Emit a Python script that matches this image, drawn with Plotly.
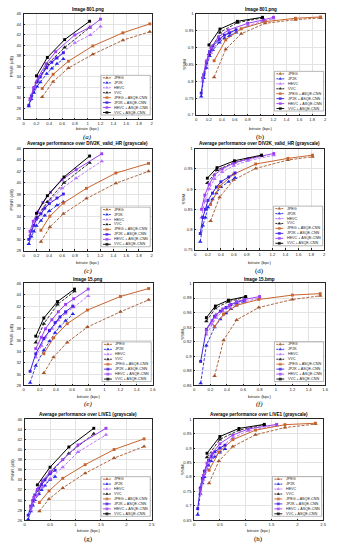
import plotly.graph_objects as go

W, H = 337, 550

CODECS = ["JPEG", "JP2K", "HEVC", "VVC"]
LEGEND_LABELS = ["JPEG", "JP2K", "HEVC", "VVC",
                 "JPEG + ASQE-CNN", "JP2K + ASQE-CNN", "HEVC + ASQE-CNN", "VVC + ASQE-CNN"]

TITLES = ["Image 801.png", "Image 801.png",
          "Average performance over DIV2K_valid_HR (grayscale)",
          "Average performance over DIV2K_valid_HR (grayscale)",
          "Image 15.png", "Image 15.bmp",
          "Average performance over LIVE1 (grayscale)",
          "Average performance over LIVE1 (grayscale)"]
CAPTIONS = ["(a)", "(b)", "(c)", "(d)", "(e)", "(f)", "(g)", "(h)"]
CAPTION_ITALIC = [True, False, True, False, True, True, False, False]
Y_TITLES = ["PSNR (dB)", "SSIM"] * 4
X_TITLE = "bitrate (bpc)"

# ---------------- data ----------------
# (a) Image 801 PSNR
A_BPP = {"JPEG": [0.29, 0.46, 0.70, 1.08, 1.55, 1.97],
         "JP2K": [0.08, 0.12, 0.16, 0.21, 0.26, 0.36, 0.44, 0.52, 0.62],
         "HEVC": [0.10, 0.16, 0.23, 0.35, 0.50, 0.80, 1.04, 1.20],
         "VVC": [0.20, 0.37, 0.64, 1.03]}
A_BASE = {"JPEG": [30.2, 33.1, 35.7, 38.3, 41.0, 42.6],
          "JP2K": [28.4, 29.8, 31.0, 32.2, 33.0, 34.6, 35.6, 36.5, 37.4],
          "HEVC": [29.6, 31.5, 33.2, 35.6, 37.6, 40.5, 42.0, 43.6],
          "VVC": [33.0, 36.4, 39.6, 43.4]}
A_ASQE = {"JPEG": [31.8, 34.5, 37.0, 39.9, 42.4, 44.1],
          "JP2K": [28.6, 30.4, 31.8, 33.2, 34.0, 35.8, 36.8, 37.6, 38.6],
          "HEVC": [29.9, 32.0, 34.0, 36.5, 38.8, 42.0, 43.5, 45.0],
          "VVC": [34.2, 37.7, 41.1, 44.6]}
# (b) Image 801 SSIM
B_BPP = {"JPEG": [0.28, 0.46, 0.70, 1.07, 1.54, 1.93],
         "JP2K": [0.08, 0.12, 0.16, 0.21, 0.26, 0.36, 0.44, 0.52, 0.62],
         "HEVC": [0.10, 0.16, 0.23, 0.35, 0.50, 0.80, 1.04, 1.20],
         "VVC": [0.20, 0.37, 0.64, 1.03]}
B_BASE = {"JPEG": [0.812, 0.895, 0.941, 0.972, 0.983, 0.988],
          "JP2K": [0.755, 0.810, 0.840, 0.875, 0.893, 0.915, 0.928, 0.935, 0.945],
          "HEVC": [0.800, 0.850, 0.885, 0.920, 0.942, 0.965, 0.978, 0.986],
          "VVC": [0.880, 0.945, 0.974, 0.988]}
B_ASQE = {"JPEG": [0.861, 0.923, 0.956, 0.977, 0.987, 0.991],
          "JP2K": [0.765, 0.820, 0.855, 0.888, 0.905, 0.925, 0.937, 0.944, 0.953],
          "HEVC": [0.810, 0.860, 0.900, 0.932, 0.952, 0.972, 0.982, 0.990],
          "VVC": [0.908, 0.955, 0.978, 0.990]}
# (c) DIV2K PSNR
C_BPP = {"JPEG": [0.27, 0.41, 0.62, 0.98, 1.44, 1.95],
         "JP2K": [0.08, 0.12, 0.16, 0.20, 0.27, 0.33, 0.40, 0.52, 0.62],
         "HEVC": [0.10, 0.15, 0.22, 0.30, 0.42, 0.60, 0.82, 1.22],
         "VVC": [0.20, 0.37, 0.63, 1.03]}
C_BASE = {"JPEG": [29.6, 32.2, 34.5, 37.2, 39.9, 42.0],
          "JP2K": [29.2, 30.5, 31.4, 32.4, 33.3, 34.2, 35.0, 36.0, 36.6],
          "HEVC": [30.8, 32.3, 33.8, 35.3, 37.0, 39.0, 40.8, 43.8],
          "VVC": [33.8, 36.6, 40.0, 43.5]}
C_ASQE = {"JPEG": [31.6, 34.1, 36.4, 39.0, 41.7, 43.4],
          "JP2K": [30.0, 31.5, 32.5, 33.6, 34.5, 35.5, 36.3, 37.3, 38.0],
          "HEVC": [31.4, 33.2, 34.8, 36.5, 38.3, 40.5, 42.3, 45.1],
          "VVC": [34.6, 37.7, 41.0, 44.7]}
# (d) DIV2K SSIM
D_BPP = {"JPEG": [0.24, 0.38, 0.60, 0.94, 1.44, 1.82],
         "JP2K": [0.08, 0.12, 0.16, 0.20, 0.27, 0.33, 0.40, 0.52, 0.62],
         "HEVC": [0.10, 0.15, 0.22, 0.30, 0.42, 0.60, 0.82, 1.22],
         "VVC": [0.19, 0.34, 0.61, 1.03]}
D_BASE = {"JPEG": [0.821, 0.880, 0.923, 0.951, 0.972, 0.980],
          "JP2K": [0.770, 0.810, 0.830, 0.855, 0.875, 0.890, 0.905, 0.918, 0.928],
          "HEVC": [0.830, 0.870, 0.900, 0.925, 0.942, 0.958, 0.970, 0.984],
          "VVC": [0.915, 0.947, 0.966, 0.982]}
D_ASQE = {"JPEG": [0.862, 0.907, 0.937, 0.962, 0.976, 0.984],
          "JP2K": [0.790, 0.830, 0.850, 0.872, 0.890, 0.905, 0.918, 0.930, 0.940],
          "HEVC": [0.850, 0.885, 0.912, 0.935, 0.950, 0.964, 0.975, 0.988],
          "VVC": [0.927, 0.953, 0.970, 0.984]}
# (e) Image 15 PSNR
E_BPP = {"JPEG": [0.25, 0.37, 0.54, 0.79, 1.20, 1.55],
         "JP2K": [0.08, 0.15, 0.25, 0.32, 0.39, 0.45, 0.52, 0.61],
         "HEVC": [0.15, 0.22, 0.27, 0.35, 0.43, 0.52, 0.62, 0.80],
         "VVC": [0.15, 0.25, 0.42, 0.63]}
E_BASE = {"JPEG": [30.2, 33.0, 35.6, 38.3, 41.0, 43.1],
          "JP2K": [28.5, 31.5, 34.2, 35.8, 37.3, 38.4, 39.4, 40.6],
          "HEVC": [33.0, 35.0, 36.5, 38.0, 39.5, 40.7, 41.8, 43.8],
          "VVC": [35.6, 38.9, 42.3, 44.6]}
E_ASQE = {"JPEG": [33.6, 36.4, 38.9, 41.3, 43.7, 45.1],
          "JP2K": [30.5, 33.6, 36.3, 37.7, 39.1, 40.1, 41.0, 42.0],
          "HEVC": [34.5, 36.5, 38.0, 39.6, 41.0, 42.3, 43.3, 45.0],
          "VVC": [36.7, 39.9, 42.8, 45.0]}
# (f) Image 15 SSIM
F_BPP = {"JPEG": [0.25, 0.36, 0.52, 0.79, 1.20, 1.54],
         "JP2K": [0.08, 0.15, 0.25, 0.32, 0.39, 0.45, 0.52, 0.61],
         "HEVC": [0.15, 0.22, 0.27, 0.35, 0.43, 0.52, 0.62, 0.80],
         "VVC": [0.15, 0.26, 0.42, 0.63]}
F_BASE = {"JPEG": [0.873, 0.922, 0.950, 0.967, 0.978, 0.983],
          "JP2K": [0.863, 0.915, 0.940, 0.951, 0.959, 0.965, 0.970, 0.975],
          "HEVC": [0.930, 0.944, 0.953, 0.962, 0.967, 0.972, 0.975, 0.980],
          "VVC": [0.948, 0.966, 0.975, 0.981]}
F_ASQE = {"JPEG": [0.941, 0.958, 0.970, 0.978, 0.984, 0.986],
          "JP2K": [0.893, 0.937, 0.955, 0.962, 0.967, 0.971, 0.974, 0.977],
          "HEVC": [0.936, 0.949, 0.957, 0.965, 0.970, 0.975, 0.978, 0.982],
          "VVC": [0.953, 0.969, 0.977, 0.982]}
# (g) LIVE1 PSNR
G_BPP = {"JPEG": [0.29, 0.48, 0.75, 1.19, 1.76, 2.35],
         "JP2K": [0.07, 0.12, 0.16, 0.20, 0.28, 0.33, 0.40, 0.50, 0.60],
         "HEVC": [0.12, 0.18, 0.25, 0.35, 0.50, 0.75, 1.05, 1.60],
         "VVC": [0.25, 0.50, 0.87, 1.36]}
G_BASE = {"JPEG": [27.8, 30.2, 32.4, 35.3, 38.3, 40.6],
          "JP2K": [26.2, 27.8, 28.9, 30.0, 31.2, 32.0, 32.9, 34.0, 34.6],
          "HEVC": [28.0, 29.6, 31.0, 32.6, 34.2, 36.5, 39.5, 42.9],
          "VVC": [31.9, 35.4, 39.2, 43.1]}
G_ASQE = {"JPEG": [29.5, 31.8, 34.3, 37.0, 40.0, 42.1],
          "JP2K": [27.0, 28.8, 29.9, 31.0, 32.3, 33.1, 34.0, 35.2, 35.9],
          "HEVC": [28.6, 30.5, 32.1, 33.8, 35.6, 38.0, 40.9, 44.2],
          "VVC": [33.0, 36.5, 40.5, 44.2]}
# (h) LIVE1 SSIM
H_BPP = {"JPEG": [0.29, 0.48, 0.75, 1.19, 1.76, 2.35],
         "JP2K": [0.07, 0.12, 0.16, 0.20, 0.28, 0.33, 0.40, 0.50, 0.60],
         "HEVC": [0.12, 0.18, 0.25, 0.35, 0.50, 0.75, 1.05, 1.60],
         "VVC": [0.25, 0.50, 0.87, 1.36]}
H_BASE = {"JPEG": [0.778, 0.855, 0.905, 0.946, 0.971, 0.983],
          "JP2K": [0.669, 0.743, 0.778, 0.800, 0.840, 0.855, 0.870, 0.885, 0.897],
          "HEVC": [0.740, 0.790, 0.830, 0.865, 0.900, 0.935, 0.960, 0.978],
          "VVC": [0.868, 0.930, 0.962, 0.980]}
H_ASQE = {"JPEG": [0.823, 0.886, 0.929, 0.962, 0.981, 0.986],
          "JP2K": [0.690, 0.762, 0.795, 0.820, 0.858, 0.872, 0.887, 0.900, 0.910],
          "HEVC": [0.755, 0.805, 0.848, 0.882, 0.915, 0.945, 0.966, 0.982],
          "VVC": [0.882, 0.940, 0.968, 0.982]}

PANEL_DATA = [(A_BPP, A_BASE, A_ASQE), (B_BPP, B_BASE, B_ASQE),
              (C_BPP, C_BASE, C_ASQE), (D_BPP, D_BASE, D_ASQE),
              (E_BPP, E_BASE, E_ASQE), (F_BPP, F_BASE, F_ASQE),
              (G_BPP, G_BASE, G_ASQE), (H_BPP, H_BASE, H_ASQE)]

# axis ticks
X_TICKS_2 = [0, 0.2, 0.4, 0.6, 0.8, 1, 1.2, 1.4, 1.6, 1.8, 2]
X_TICKS_16 = [0, 0.2, 0.4, 0.6, 0.8, 1, 1.2, 1.4, 1.6]
X_TICKS_25 = [0, 0.5, 1, 1.5, 2, 2.5]
Y_PSNR_A = [26, 28, 30, 32, 34, 36, 38, 40, 42, 44, 46]
Y_PSNR_C = [28, 30, 32, 34, 36, 38, 40, 42, 44, 46]
Y_SSIM_B = [0.7, 0.75, 0.8, 0.85, 0.9, 0.95, 1]
Y_SSIM_D = [0.75, 0.8, 0.85, 0.9, 0.95, 1]
Y_SSIM_F = [0.86, 0.88, 0.9, 0.92, 0.94, 0.96, 0.98, 1]
Y_SSIM_H = [0.65, 0.7, 0.75, 0.8, 0.85, 0.9, 0.95, 1]
X_TICKS = [X_TICKS_2, X_TICKS_2, X_TICKS_2, X_TICKS_2, X_TICKS_16, X_TICKS_16, X_TICKS_25, X_TICKS_25]
Y_TICKS = [Y_PSNR_A, Y_SSIM_B, Y_PSNR_C, Y_SSIM_D, Y_PSNR_C, Y_SSIM_F, Y_PSNR_A, Y_SSIM_H]

# ---------------- style / layout ----------------
COL_BASE = {"JPEG": "#A5552A", "JP2K": "#2424E6", "HEVC": "#B56CFF", "VVC": "#1A1A1A"}
COL_ASQE = {"JPEG": "#C8652E", "JP2K": "#3F20E2", "HEVC": "#9D3FF2", "VVC": "#000000"}

# plot rectangles in pixels: left, right, top, bottom
BOXES = [(23, 153, 11, 117), (198, 329, 11, 113),
         (23, 153, 147, 250), (197, 328, 147, 249),
         (23, 154, 283, 386), (196, 329, 283, 386),
         (24, 153, 420, 522), (196, 327, 420, 522)]
TITLE_Y = [7, 7, 142, 142, 279, 279, 415, 415]
XLAB_Y = [127, 127, 262, 262, 397, 397, 532, 532]
CAP_Y = [135, 135, 270, 270, 405, 405, 541, 541]

TICK_FONT = dict(family="Liberation Sans, Arial, sans-serif", size=4.2, color="#262626")
SANS = "Liberation Sans, Arial, sans-serif"

fig = go.Figure()
annotations = []

def fmt(v):
    return "%g" % v

for i in range(8):
    k = "" if i == 0 else str(i + 1)
    L, R, T, B = BOXES[i]
    xs = X_TICKS[i]
    ys = Y_TICKS[i]
    fig.layout["xaxis" + k] = dict(
        domain=[L / W, R / W], anchor="y" + k,
        range=[xs[0], xs[-1]], tickmode="array", tickvals=xs, ticktext=[fmt(v) for v in xs],
        showgrid=True, gridcolor="#e3e3e3", gridwidth=0.5, zeroline=False,
        showline=True, mirror=True, linecolor="#262626", linewidth=0.5,
        ticks="inside", ticklen=1.5, tickwidth=0.5, tickcolor="#262626",
        tickfont=TICK_FONT, ticklabelstandoff=0, fixedrange=True)
    fig.layout["yaxis" + k] = dict(
        domain=[1 - B / H, 1 - T / H], anchor="x" + k,
        range=[ys[0], ys[-1]], tickmode="array", tickvals=ys, ticktext=[fmt(v) for v in ys],
        showgrid=True, gridcolor="#e3e3e3", gridwidth=0.5, zeroline=False,
        showline=True, mirror=True, linecolor="#262626", linewidth=0.5,
        ticks="inside", ticklen=1.5, tickwidth=0.5, tickcolor="#262626",
        tickfont=TICK_FONT, ticklabelstandoff=1, fixedrange=True)

    bpp, base, asqe = PANEL_DATA[i]
    for c in CODECS:
        fig.add_trace(go.Scatter(
            x=bpp[c], y=base[c], xaxis="x" + k, yaxis="y" + k, mode="lines+markers",
            line=dict(color=COL_BASE[c], width=0.9, dash="3px,1.5px"),
            marker=dict(symbol="triangle-up", size=4, color=COL_BASE[c],
                        line=dict(width=0)),
            showlegend=False, cliponaxis=False, name=c))
    for c in CODECS:
        fig.add_trace(go.Scatter(
            x=bpp[c], y=asqe[c], xaxis="x" + k, yaxis="y" + k, mode="lines+markers",
            line=dict(color=COL_ASQE[c], width=1.0),
            marker=dict(symbol="square", size=2.9, color=COL_ASQE[c], line=dict(width=0)),
            showlegend=False, cliponaxis=False, name=c + " + ASQE-CNN"))

    cx = (L + R) / 2
    annotations.append(dict(x=cx, y=TITLE_Y[i], xref="x9", yref="y9", text="<b>%s</b>" % TITLES[i],
                            showarrow=False, font=dict(family=SANS, size=4.6, color="#000"),
                            xanchor="center", yanchor="middle"))
    annotations.append(dict(x=cx, y=XLAB_Y[i], xref="x9", yref="y9", text=X_TITLE,
                            showarrow=False, font=dict(family=SANS, size=4.3, color="#262626"),
                            xanchor="center", yanchor="middle"))
    annotations.append(dict(x=L - 12, y=(T + B) / 2, xref="x9", yref="y9", text=Y_TITLES[i],
                            showarrow=False, textangle=-90,
                            font=dict(family=SANS, size=4.3, color="#262626"),
                            xanchor="center", yanchor="middle"))
    cap = "<i>%s</i>" % CAPTIONS[i] if CAPTION_ITALIC[i] else CAPTIONS[i]
    annotations.append(dict(x=cx, y=CAP_Y[i], xref="x9", yref="y9", text=cap,
                            showarrow=False, font=dict(family="Liberation Serif, Times New Roman, serif",
                                                       size=7, color="#000"),
                            xanchor="center", yanchor="middle"))

    # legend box (pixel units on overlay axis)
    lw, lh = 50, 40
    bx1 = R - 1.5
    by1 = B - 4
    bx0, by0 = bx1 - lw, by1 - lh
    fig.add_trace(go.Scatter(
        x=[bx0, bx1, bx1, bx0, bx0], y=[by0, by0, by1, by1, by0], xaxis="x9", yaxis="y9",
        mode="lines", fill="toself", fillcolor="white", line=dict(color="#6e6e6e", width=0.5),
        showlegend=False, hoverinfo="skip"))
    rowh = lh / 8.0
    for j, lab in enumerate(LEGEND_LABELS):
        c = CODECS[j % 4]
        is_base = j < 4
        yy = by0 + rowh * (j + 0.5)
        fig.add_trace(go.Scatter(
            x=[bx0 + 2, bx0 + 6, bx0 + 10], y=[yy, yy, yy], xaxis="x9", yaxis="y9",
            mode="lines+markers",
            line=dict(color=(COL_BASE if is_base else COL_ASQE)[c], width=0.9,
                      dash="2px,1px" if is_base else "solid"),
            marker=dict(symbol="triangle-up" if is_base else "square",
                        size=[0, 3.6 if is_base else 2.8, 0],
                        color=(COL_BASE if is_base else COL_ASQE)[c], line=dict(width=0)),
            showlegend=False, hoverinfo="skip", cliponaxis=False))
        annotations.append(dict(x=bx0 + 11.5, y=yy, xref="x9", yref="y9", text=lab,
                                showarrow=False, font=dict(family=SANS, size=3.7, color="#1a1a1a"),
                                xanchor="left", yanchor="middle"))

fig.layout["xaxis9"] = dict(domain=[0, 1], range=[0, W], visible=False, anchor="y9", fixedrange=True)
fig.layout["yaxis9"] = dict(domain=[0, 1], range=[H, 0], visible=False, anchor="x9", fixedrange=True)

fig.update_layout(width=W, height=H, margin=dict(l=0, r=0, t=0, b=0),
                  paper_bgcolor="white", plot_bgcolor="rgba(0,0,0,0)",
                  annotations=annotations, showlegend=False)

fig.write_html("out.html", config={"displayModeBar": False},
               post_script="document.body.style.margin='0';document.body.style.padding='0';")
